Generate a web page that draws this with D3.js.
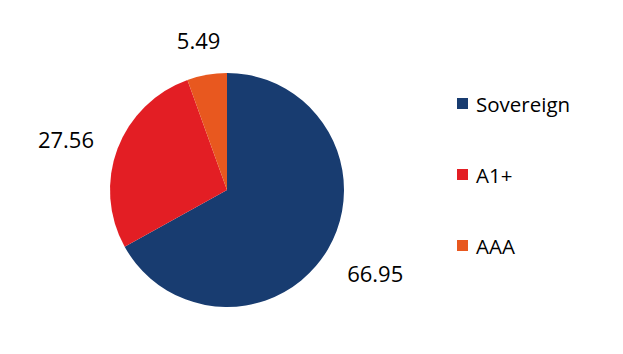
<!DOCTYPE html>
<html><head><meta charset="utf-8">
<script src="https://cdn.jsdelivr.net/npm/d3@7"></script>
<style>body{margin:0;background:#fff;}svg{display:block;font-family:"Open Sans","Noto Sans",sans-serif;}</style>
</head><body>
<svg id="chart" width="623" height="354"></svg>
<script>
const categories = ["Sovereign", "A1+", "AAA"];
const values = [66.95, 27.56, 5.49];
const labels = ["66.95", "27.56", "5.49"];
const colors = ["#183c70", "#e31e24", "#e8581f"];

const svg = d3.select("#chart");
const cx = 227, cy = 190, R = 117;
const g = svg.append("g").attr("transform", `translate(${cx},${cy})`);

const pie = d3.pie().sort(null).value(d => d.v);
const data = categories.map((c, i) => ({c, v: values[i], l: labels[i], col: colors[i]}));
const arcs = pie(data);
const arc = d3.arc().innerRadius(0).outerRadius(R);

g.selectAll("path").data(arcs).enter().append("path")
  .attr("d", arc).attr("fill", d => d.data.col);

const gap = 27, hh = 12;
arcs.forEach(a => {
  const m = (a.startAngle + a.endAngle) / 2;
  const ux = Math.sin(m), uy = -Math.cos(m);
  const t = g.append("text").text(a.data.l)
    .attr("font-size", 22).attr("fill", "#000")
    .attr("text-anchor", "middle").attr("dominant-baseline", "central");
  const w = t.node().getComputedTextLength();
  const x = (R + gap) * ux + (w / 2) * ux;
  const y = (R + gap) * uy + hh * uy + 4;
  t.attr("x", x).attr("y", y);
});

const leg = svg.append("g").attr("transform", "translate(457,98)");
const item = leg.selectAll("g").data(data).enter().append("g")
  .attr("transform", (d, i) => `translate(0,${i * 71})`);
item.append("rect").attr("width", 11).attr("height", 11).attr("fill", d => d.col);
item.append("text").attr("x", 19).attr("y", 14).attr("font-size", 20.5).attr("fill", "#000").text(d => d.c);
</script>
</body></html>
